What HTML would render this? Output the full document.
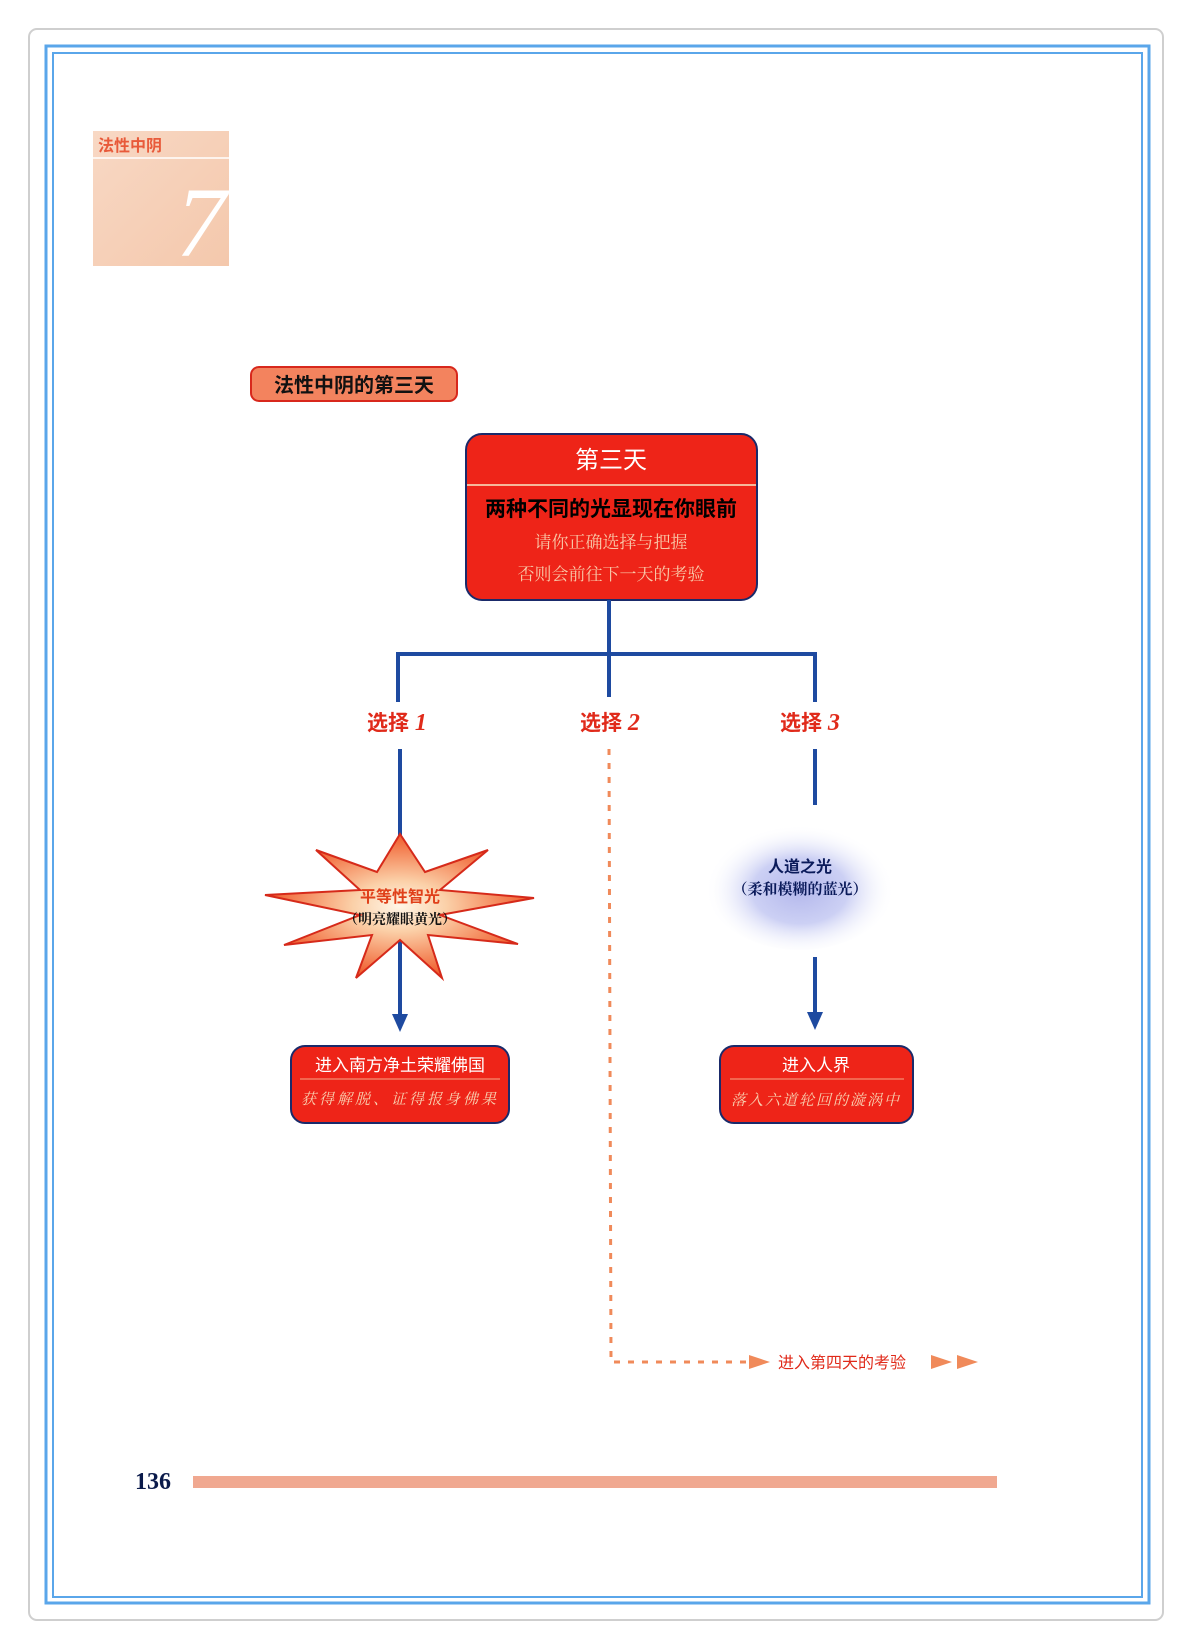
<!DOCTYPE html>
<html><head><meta charset="utf-8"><style>
html,body{margin:0;padding:0;background:#fff;}
svg{display:block;}
</style></head><body>
<svg width="1188" height="1642" viewBox="0 0 1188 1642" xmlns="http://www.w3.org/2000/svg">
<defs>
<radialGradient id="star" cx="50%" cy="50%" r="50%">
<stop offset="0" stop-color="#fff6e8"/><stop offset="0.35" stop-color="#fbd0a8"/><stop offset="1" stop-color="#f05a2a"/>
</radialGradient>
<radialGradient id="cloud" cx="50%" cy="55%" r="50%">
<stop offset="0" stop-color="#b4b8ec"/><stop offset="0.5" stop-color="#ccd0f4"/><stop offset="1" stop-color="#ffffff" stop-opacity="0"/>
</radialGradient>
<linearGradient id="tag" x1="0" y1="0" x2="1" y2="1">
<stop offset="0" stop-color="#f8d8c4"/><stop offset="1" stop-color="#f4c8ac"/>
</linearGradient>
</defs>
<rect x="29" y="29" width="1134" height="1591" rx="8" fill="none" stroke="#cfcfcf" stroke-width="2"/>
<rect x="46" y="46" width="1103" height="1557" fill="none" stroke="#5aa6ea" stroke-width="3"/>
<rect x="53" y="53" width="1089" height="1544" fill="none" stroke="#5aa6ea" stroke-width="2"/>

<rect x="93" y="131" width="136" height="135" fill="url(#tag)"/>
<line x1="93" y1="158" x2="229" y2="158" stroke="#fff" stroke-width="1.5"/>
<text x="98" y="151" font-family="Liberation Sans,Noto Sans CJK SC,sans-serif" font-size="16" font-weight="bold" fill="#e85a3a">法性中阴</text>
<text x="176" y="256" font-family="Liberation Serif,serif" font-size="100" font-style="italic" fill="#fff">7</text>

<rect x="251" y="367" width="206" height="34" rx="8" fill="#f3835e" stroke="#d8281c" stroke-width="2"/>
<text x="354" y="392" text-anchor="middle" font-family="Liberation Sans,Noto Sans CJK SC,sans-serif" font-size="20" font-weight="bold" fill="#111">法性中阴的第三天</text>

<rect x="466" y="434" width="291" height="166" rx="16" fill="#ee2418" stroke="#1a2a6a" stroke-width="2"/>
<line x1="467" y1="485" x2="756" y2="485" stroke="#f6b89a" stroke-width="2"/>
<text x="611" y="468" text-anchor="middle" font-family="Liberation Sans,Noto Sans CJK SC,sans-serif" font-size="24" fill="#fff">第三天</text>
<text x="611" y="516" text-anchor="middle" font-family="Liberation Sans,Noto Sans CJK SC,sans-serif" font-size="21" font-weight="bold" fill="#000">两种不同的光显现在你眼前</text>
<text x="611" y="548" text-anchor="middle" font-family="Liberation Serif,Noto Serif CJK SC,serif" font-size="17" fill="#f8c8a8">请你正确选择与把握</text>
<text x="611" y="580" text-anchor="middle" font-family="Liberation Serif,Noto Serif CJK SC,serif" font-size="17" fill="#f8c8a8">否则会前往下一天的考验</text>

<g stroke="#1e4aa0" stroke-width="4" fill="none">
<line x1="609" y1="600" x2="609" y2="697"/>
<polyline points="398,702 398,654 815,654 815,702"/>
<line x1="400" y1="749" x2="400" y2="840"/>
<line x1="400" y1="940" x2="400" y2="1018"/>
<line x1="815" y1="749" x2="815" y2="805"/>
<line x1="815" y1="957" x2="815" y2="1016"/>
</g>
<polygon points="392,1014 408,1014 400,1032" fill="#1e4aa0"/>
<polygon points="807,1012 823,1012 815,1030" fill="#1e4aa0"/>

<g font-family="Liberation Sans,Noto Sans CJK SC,sans-serif" font-size="21" font-weight="bold" fill="#e02a1a">
<text x="367" y="730">选择 <tspan font-family="Liberation Serif,serif" font-style="italic" font-size="24">1</tspan></text>
<text x="580" y="730">选择 <tspan font-family="Liberation Serif,serif" font-style="italic" font-size="24">2</tspan></text>
<text x="780" y="730">选择 <tspan font-family="Liberation Serif,serif" font-style="italic" font-size="24">3</tspan></text>
</g>

<polygon points="400,834 425,872 488,850 440,890 534,898 440,915 518,944 428,935 442,978 400,940 356,978 372,935 284,945 360,915 265,895 360,890 316,850 377,872" fill="url(#star)" stroke="#d62a1a" stroke-width="2"/>
<text x="400" y="902" text-anchor="middle" font-family="Liberation Sans,Noto Sans CJK SC,sans-serif" font-size="16" font-weight="bold" fill="#e0401a">平等性智光</text>
<text x="400" y="924" text-anchor="middle" font-family="Noto Serif CJK SC,serif" font-size="14" font-weight="bold" fill="#111">（明亮耀眼黄光）</text>

<ellipse cx="800" cy="884" rx="95" ry="66" fill="url(#cloud)"/>
<text x="800" y="872" text-anchor="middle" font-family="Liberation Sans,Noto Sans CJK SC,sans-serif" font-size="16" font-weight="bold" fill="#0a1a5a">人道之光</text>
<text x="800" y="894" text-anchor="middle" font-family="Noto Serif CJK SC,serif" font-size="15" font-weight="bold" fill="#0a1a5a">（柔和模糊的蓝光）</text>

<rect x="291" y="1046" width="218" height="77" rx="14" fill="#ee2418" stroke="#1a2a6a" stroke-width="2"/>
<line x1="300" y1="1079" x2="500" y2="1079" stroke="#f6a888" stroke-width="1"/>
<text x="400" y="1071" text-anchor="middle" font-family="Liberation Sans,Noto Sans CJK SC,sans-serif" font-size="17" fill="#fff">进入南方净土荣耀佛国</text>
<text x="400" y="1104" text-anchor="middle" font-family="Noto Serif CJK SC,serif" font-size="15" font-style="italic" fill="#f8d0b0" letter-spacing="3">获得解脱、证得报身佛果</text>

<rect x="720" y="1046" width="193" height="77" rx="14" fill="#ee2418" stroke="#1a2a6a" stroke-width="2"/>
<line x1="730" y1="1079" x2="904" y2="1079" stroke="#f6a888" stroke-width="1"/>
<text x="816" y="1071" text-anchor="middle" font-family="Liberation Sans,Noto Sans CJK SC,sans-serif" font-size="17" fill="#fff">进入人界</text>
<text x="816" y="1105" text-anchor="middle" font-family="Noto Serif CJK SC,serif" font-size="15" font-style="italic" fill="#f8d0b0" letter-spacing="2">落入六道轮回的漩涡中</text>

<polyline points="609,749 611,1362 748,1362" fill="none" stroke="#f08a5a" stroke-width="3" stroke-dasharray="6,8"/>
<polygon points="749,1355 770,1362 749,1369" fill="#f08a5a"/>
<text x="778" y="1368" font-family="Liberation Sans,Noto Sans CJK SC,sans-serif" font-size="16" fill="#e02a1a">进入第四天的考验</text>
<polygon points="931,1355 952,1362 931,1369" fill="#f08a5a"/>
<polygon points="957,1355 978,1362 957,1369" fill="#f08a5a"/>

<text x="135" y="1489" font-family="Liberation Serif,serif" font-size="24" font-weight="bold" fill="#0a1a4a">136</text>
<rect x="193" y="1476" width="804" height="12" fill="#f0a890"/>
</svg>
</body></html>
